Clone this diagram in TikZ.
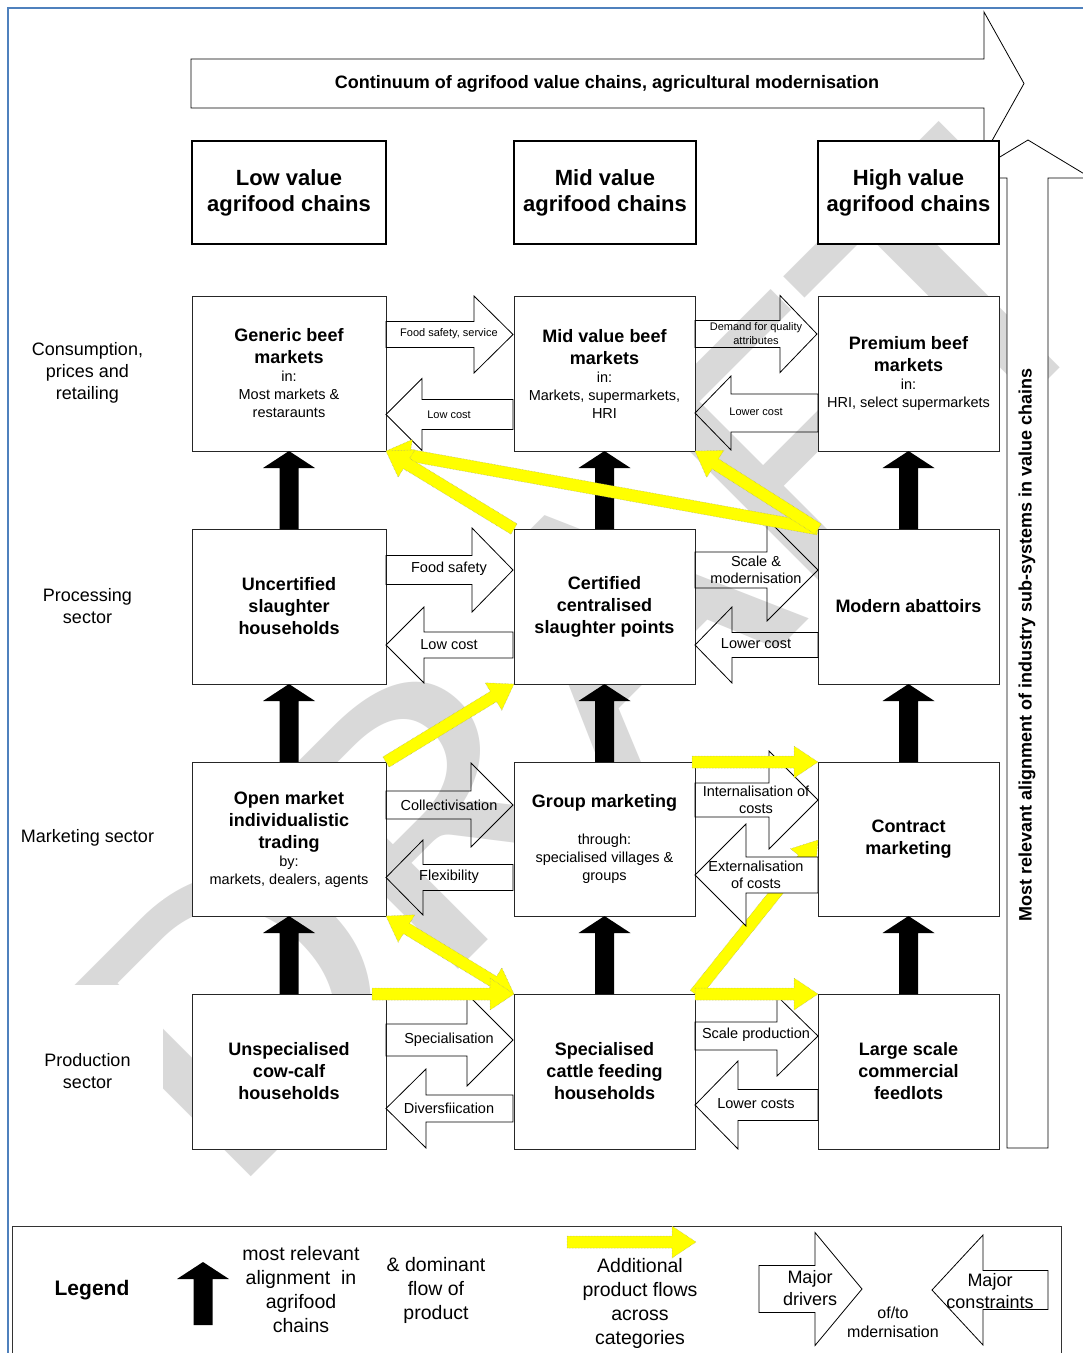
\documentclass[tikz,border=0pt]{standalone}
\usepackage{fontspec}
\setmainfont{Liberation Sans}
\newfontfamily\wmfont{Carlito}
\usetikzlibrary{calc}
\definecolor{wmgray}{RGB}{217,217,217}
\definecolor{frameblue}{RGB}{79,129,189}
\definecolor{yel}{RGB}{255,255,0}
\definecolor{yeledge}{RGB}{175,175,110}
\newcommand\bft{\fontsize{18}{22}\selectfont\bfseries}
\newcommand\smt{\fontsize{14.5}{18}\selectfont\mdseries}
% block arrow: [style]{x0}{xhead}{xtip}{ycentre}{half body}{half head}
\newcommand\barr[7][]{\draw[blockarrow,#1] (#2,{#5-#6}) -- (#3,{#5-#6}) -- (#3,{#5-#7}) -- (#4,#5) -- (#3,{#5+#7}) -- (#3,{#5+#6}) -- (#2,{#5+#6}) -- cycle;}
% big black upward arrow from node anchor #1 to node anchor #2
\newcommand\bup[2]{\fill[black] ($(#1)+(-9.5,0)$) -- ($(#2)+(-9.5,17)$) -- ($(#2)+(-26,17)$) -- (#2) -- ($(#2)+(26,17)$) -- ($(#2)+(9.5,17)$) -- ($(#1)+(9.5,0)$) -- cycle;}
% yellow arrow
\newcommand\yarr[2]{%
 \coordinate (yh) at ($(#2)!24pt!(#1)$);
 \draw[yarrow] ($(#1)!6pt!90:(#2)$) -- ($(yh)!6pt!90:(#2)$) -- ($(yh)!16pt!90:(#2)$) -- (#2) -- ($(yh)!16pt!-90:(#2)$) -- ($(yh)!6pt!-90:(#2)$) -- ($(#1)!6pt!-90:(#2)$) -- cycle;}
\newcommand\yarrd[2]{%
 \coordinate (yh) at ($(#2)!24pt!(#1)$);
 \coordinate (yt) at ($(#1)!24pt!(#2)$);
 \draw[yarrow] ($(yt)!6pt!90:(#2)$) -- ($(yh)!6pt!90:(#2)$) -- ($(yh)!16pt!90:(#2)$) -- (#2) -- ($(yh)!16pt!-90:(#2)$) -- ($(yh)!6pt!-90:(#2)$) -- ($(yt)!6pt!-90:(#2)$) -- ($(yt)!16pt!-90:(#2)$) -- (#1) -- ($(yt)!16pt!90:(#2)$) -- cycle;}
\begin{document}
\begin{tikzpicture}[x=1pt,y=-1pt,
 gbox/.style={draw=black!85, line width=0.9pt, fill=white, align=center, anchor=north west, inner sep=1pt, outer sep=0pt, font=\bft},
 hbox/.style={draw=black, line width=2pt, fill=white, align=center, anchor=north west, outer sep=0pt, font=\fontsize{22}{26}\selectfont\bfseries},
 blockarrow/.style={draw=black, line width=0.8pt, line join=miter},
 alab/.style={font=\fontsize{14.5}{17}\selectfont, align=center, inner sep=0pt},
 alabs/.style={font=\fontsize{11}{14}\selectfont, align=center, inner sep=0pt},
 sector/.style={fill=white, minimum width=151, align=center, inner sep=0pt, font=\fontsize{18}{22}\selectfont},
 yarrow/.style={fill=yel, draw=yeledge, line width=0.5pt, densely dotted},
 lgt/.style={font=\fontsize{19.5}{24}\selectfont, align=center, inner sep=0pt},
 wm/.style={anchor=base west, rotate=45, xscale=1.17, inner sep=0pt, text=wmgray, font=\wmfont\fontsize{405}{405}\selectfont}]
\useasboundingbox (0,0) rectangle (1083,1353);
\clip (0,0) rectangle (1083,1353);
\fill[white] (0,0) rectangle (1083,1353);
% watermark
\node[wm] (wmark) at (228,1200) {DRAFT};
% frame
\draw[frameblue, line width=2pt] (8,1370) -- (8,8) -- (1095,8);
% sector labels
\node[sector, minimum height=124] (s1) at (87.5,373) {Consumption,\\prices and\\retailing};
\node[sector, minimum height=124] (s2) at (87.5,606) {Processing\\sector};
\node[sector, minimum height=124] (s3) at (87.5,838) {Marketing sector};
\node[sector, minimum height=172] (s4) at (87.5,1071) {Production\\sector};
% top continuum arrow
\draw[blockarrow, fill=white] (191,59) -- (984,59) -- (984,12) -- (1024,83.5) -- (984,155) -- (984,108) -- (191,108) -- cycle;
\node[font=\fontsize{18}{22}\selectfont\bfseries, inner sep=0pt] (ttl) at (607,84) {Continuum of agrifood value chains, agricultural modernisation};
% right vertical arrow
\draw[blockarrow, fill=white] (1007,1148) -- (1007,178) -- (965,178) -- (1028,140) -- (1091,178) -- (1048,178) -- (1048,1148) -- cycle;
\node[font=\fontsize{18}{22}\selectfont\bfseries, inner sep=0pt, rotate=90] (vtl) at (1027,645) {Most relevant alignment of industry sub-systems in value chains};
% header boxes
\node[hbox, minimum width=194, minimum height=103] (h1) at (192,141) {Low value\\agrifood chains};
\node[hbox, minimum width=182, minimum height=103] (h2) at (514,141) {Mid value\\agrifood chains};
\node[hbox, minimum width=181, minimum height=103] (h3) at (818,141) {High value\\agrifood chains};
% grid boxes
\node[gbox, minimum width=194, minimum height=155] (r1c1) at (192,296) {\bft Generic beef\\\bft markets\\[-4pt]\smt in:\\[-4pt]\smt Most markets \&\\[-4pt]\smt restaraunts};
\node[gbox, minimum width=181, minimum height=155] (r1c2) at (514,296) {\bft Mid value beef\\\bft markets\\[-4pt]\smt in:\\[-4pt]\smt Markets, supermarkets,\\[-4pt]\smt HRI};
\node[gbox, minimum width=181, minimum height=155] (r1c3) at (818,296) {\bft Premium beef\\\bft markets\\[-4pt]\smt in:\\[-4pt]\smt HRI, select supermarkets};
\node[gbox, minimum width=194, minimum height=155] (r2c1) at (192,529) {Uncertified\\slaughter\\households};
\node[gbox, minimum width=181, minimum height=155] (r2c2) at (514,529) {Certified\\centralised\\slaughter points};
\node[gbox, minimum width=181, minimum height=155] (r2c3) at (818,529) {Modern abattoirs};
\node[gbox, minimum width=194, minimum height=154] (r3c1) at (192,762) {\bft Open market\\\bft individualistic\\\bft trading\\[-4pt]\smt by:\\[-4pt]\smt markets, dealers, agents};
\node[gbox, minimum width=181, minimum height=154] (r3c2) at (514,762) {\bft Group marketing\\[15pt]\smt through:\\[-4pt]\smt specialised villages \&\\[-4pt]\smt groups};
\node[gbox, minimum width=181, minimum height=154] (r3c3) at (818,762) {Contract\\marketing};
\node[gbox, minimum width=194, minimum height=155] (r4c1) at (192,994) {Unspecialised\\cow-calf\\households};
\node[gbox, minimum width=181, minimum height=155] (r4c2) at (514,994) {Specialised\\cattle feeding\\households};
\node[gbox, minimum width=181, minimum height=155] (r4c3) at (818,994) {Large scale\\commercial\\feedlots};
% yellow arrow partly hidden behind a block arrow
\coordinate (y7e) at (818,840);
\yarr{r4c2.north east}{y7e}
% block arrows between columns
\barr{386}{474}{513}{334.5}{13}{38.5}
\barr{513}{422}{386}{414.5}{15}{36}
\barr{695}{780}{817}{334}{13.5}{38.5}
\barr{818}{731}{695}{413}{19}{37}
\barr{386}{472}{513}{570}{14.5}{42}
\barr{513}{424}{386}{645}{13}{38}
\barr{695}{767}{818}{570}{18}{51}
\barr{818}{732}{695}{645}{12.5}{38}
\barr{386}{471}{513}{805}{14}{42}
\barr{513}{423}{386}{877.5}{13}{37.5}
\barr{695}{769}{818}{800}{17}{49}
\barr[fill=white]{818}{746}{695}{875}{18}{51}
\barr{386}{467}{513}{1040}{16}{46}
\barr{513}{426}{386}{1108.5}{13.5}{39.5}
\barr{695}{777}{818}{1036}{14}{40}
\barr{818}{738}{695}{1105}{15.5}{44}
% block arrow labels
\node[alabs] (a1) at (449,334) {Food safety, service};
\node[alabs] (a2) at (449,415) {Low cost};
\node[alabs] (a3) at (756,334) {Demand for quality\\attributes};
\node[alabs] (a4) at (756,412) {Lower cost};
\node[alab] (b1) at (449,569) {Food safety};
\node[alab] (b2) at (449,645) {Low cost};
\node[alab] (b3) at (756,569.5) {Scale \&\\modernisation};
\node[alab] (b4) at (756,644) {Lower cost};
\node[alab] (c1) at (449,805) {Collectivisation};
\node[alab] (c2) at (449,877) {Flexibility};
\node[alab] (c3) at (756,799.5) {Internalisation of\\costs};
\node[alab] (c4) at (756,874.5) {Externalisation\\of costs};
\node[alab] (d1) at (449,1040) {Specialisation};
\node[alab] (d2) at (449,1108) {Diversfiication};
\node[alab] (d3) at (756,1035) {Scale production};
\node[alab] (d4) at (756,1104) {Lower costs};
% black alignment arrows
\bup{r2c1.north}{r1c1.south}
\bup{r3c1.north}{r2c1.south}
\bup{r4c1.north}{r3c1.south}
\bup{r2c2.north}{r1c2.south}
\bup{r3c2.north}{r2c2.south}
\bup{r4c2.north}{r3c2.south}
\bup{r2c3.north}{r1c3.south}
\bup{r3c3.north}{r2c3.south}
\bup{r4c3.north}{r3c3.south}
% yellow product flows
\yarr{r2c3.north west}{r1c1.south east}
\yarr{r2c2.north west}{r1c1.south east}
\yarr{r2c3.north west}{r1c2.south east}
\yarr{r3c1.north east}{r2c2.south west}
\yarrd{r3c1.south east}{r4c2.north west}
\coordinate (y5s) at (372,994);
\yarr{y5s}{r4c2.north west}
\yarr{r4c2.north east}{r4c3.north west}
\coordinate (y8s) at (692,762);
\yarr{y8s}{r3c3.north west}
% legend
\node[draw=black!80, line width=0.8pt, fill=white, minimum width=1049, minimum height=150, anchor=north west, outer sep=0pt] (lgbox) at (12,1226) {};
\node[font=\fontsize{21}{24}\selectfont\bfseries, inner sep=0pt] (lgname) at (92,1290) {Legend};
\coordinate (lgb) at (203,1325);
\coordinate (lgt) at (203,1262);
\bup{lgb}{lgt}
\node[lgt] (lg1) at (301,1290) {most relevant\\alignment\ \ in\\agrifood\\chains};
\node[lgt] (lg2) at (436,1290) {\& dominant\\flow of\\product};
\coordinate (ly1) at (567,1242);
\coordinate (ly2) at (696,1242);
\yarr{ly1}{ly2}
\node[lgt] (lg3) at (640,1303) {Additional\\product flows\\across\\categories};
\barr{759}{815}{862}{1289}{23.5}{56.5}
\node[font=\fontsize{18}{22}\selectfont, align=center, inner sep=0pt] (lg4) at (810,1288) {Major\\drivers};
\node[font=\fontsize{16}{19}\selectfont, align=center, inner sep=0pt] (lg5) at (893,1322) {of/to\\mdernisation};
\barr{1048}{983}{932}{1290}{19.5}{55}
\node[font=\fontsize{18}{22}\selectfont, align=center, inner sep=0pt] (lg6) at (990,1291) {Major\\constraints};
\end{tikzpicture}
\end{document}
